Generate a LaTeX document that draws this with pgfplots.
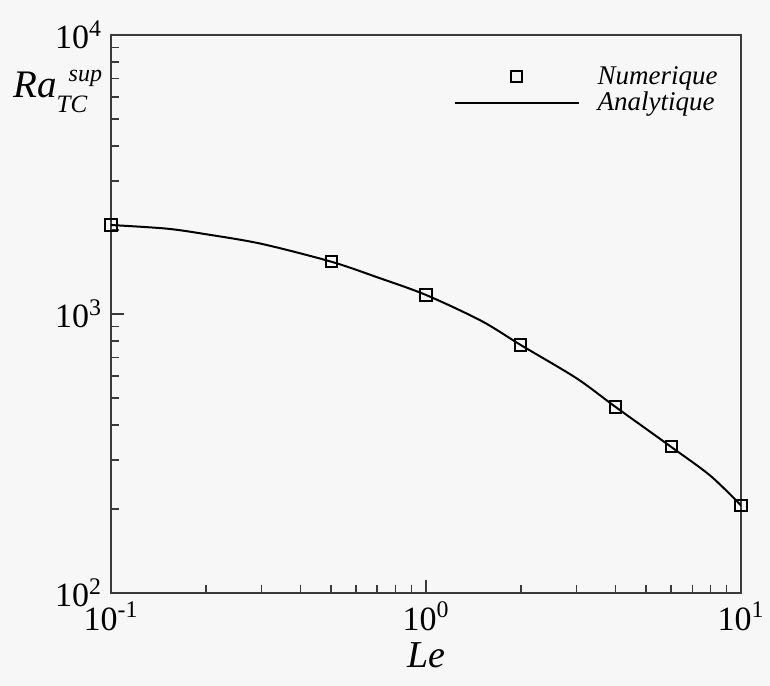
\documentclass[border=0pt]{standalone}
\usepackage{fontspec}
\setmainfont{Liberation Serif}
\usepackage{pgfplots}
\pgfplotsset{compat=1.18}
\usetikzlibrary{backgrounds}
\definecolor{bgc}{HTML}{F7F7F7}
\definecolor{spine}{HTML}{3A3A3A}
\pgfplotsset{
  marklegend/.style={legend image code/.code={\draw[mark repeat=2,mark phase=2,##1] plot coordinates {(0pt,0pt)(31pt,0pt)(62pt,0pt)};}},
  linelegend/.style={legend image code/.code={\draw[##1] (0pt,0pt) -- (62pt,0pt);}},
}
\begin{document}
\begin{tikzpicture}
\begin{axis}[
  name=ax,
  scale only axis,
  width=315pt, height=279pt,
  xmode=log, ymode=log,
  xmin=0.1, xmax=10, ymin=100, ymax=10000,
  axis line style={spine, line width=0.8pt},
  tick style={spine, line width=0.7pt},
  tick align=inside,
  tick pos=left,
  major tick length=6.5pt,
  minor tick length=4pt,
  xtick={0.1,1,10},
  xticklabels={10\textsuperscript{-1},10\textsuperscript{0},10\textsuperscript{1}},
  minor xtick={0.2,0.3,0.4,0.5,0.6,0.7,0.8,0.9,2,3,4,5,6,7,8,9},
  ytick={100,1000,10000},
  yticklabels={10\textsuperscript{2},10\textsuperscript{3},10\textsuperscript{4}},
  minor ytick={200,300,400,500,600,700,800,900,2000,3000,4000,5000,6000,7000,8000,9000},
  tick label style={font=\fontsize{17}{20}\selectfont},
  xticklabel style={yshift=-1pt},
  yticklabel style={xshift=-1pt},
  xlabel={\textit{Le}},
  xlabel style={font=\fontsize{19}{22}\selectfont, yshift=1pt},
  legend style={draw=none, fill=none, font=\fontsize{13.5}{15}\selectfont\itshape,
    at={(rel axis cs:1,1)}, anchor=north east, xshift=-6.5pt, yshift=-11.5pt,
    row sep=-1.5pt, column sep=7pt},
  legend cell align=left,
]
\addplot[only marks, mark=square, mark size=2.8pt, line width=1pt, black, marklegend]
  coordinates {(0.1,2084) (0.5,1540) (1,1170) (2,774) (4,464) (6,334) (10,206)};
\addlegendentry{Numerique}
\addplot[smooth, black, line width=1pt, no marks, linelegend]
  coordinates {(0.1,2084) (0.15,2023) (0.2,1932) (0.3,1785) (0.5,1540) (0.7,1354) (1,1170) (1.5,944) (2,774) (3,589) (4,464) (6,334) (8,263) (10,206)};
\addlegendentry{Analytique}
\end{axis}
\node[anchor=base west, inner sep=0pt] at ([xshift=-49pt,yshift=247.5pt]ax.south west)
  {{\fontsize{19.5}{22}\selectfont\itshape Ra}\rlap{\raisebox{-7.5pt}{\fontsize{12.5}{15}\selectfont\itshape TC}}\hspace{6pt}\raisebox{8pt}{\fontsize{12}{15}\selectfont\itshape sup}};
\begin{pgfonlayer}{background}
\fill[bgc] ([xshift=-55.5pt,yshift=-46.5pt]ax.south west) rectangle ([xshift=14.5pt,yshift=17.5pt]ax.north east);
\end{pgfonlayer}
\pgfresetboundingbox
\path[use as bounding box] ([xshift=-55.5pt,yshift=-46.5pt]ax.south west) rectangle ([xshift=14.5pt,yshift=17.5pt]ax.north east);
\end{tikzpicture}
\end{document}
